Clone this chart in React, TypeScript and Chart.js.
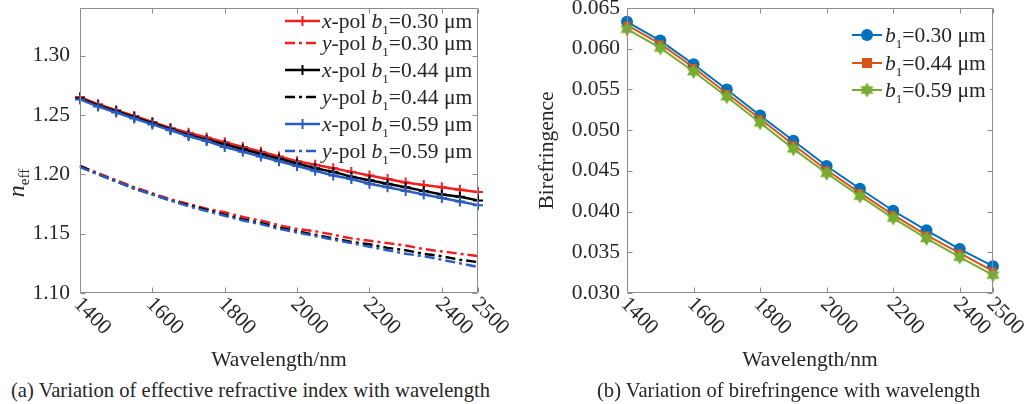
import React, { useEffect, useRef } from 'react';
import { Chart, registerables } from 'chart.js';

Chart.register(...registerables);

const FONT = '"Liberation Serif", "Times New Roman", serif';
const TEXT = '#262626';
const AXIS = '#8c8c8c';
const FS = 21.5;

// ---------- (a) effective refractive index ----------
const wavelengthsA = [1400, 1450, 1500, 1550, 1600, 1650, 1700, 1750, 1800, 1850, 1900, 1950, 2000, 2050, 2100, 2150, 2200, 2250, 2300, 2350, 2400, 2450, 2500];
const xpol030 = [1.265, 1.259, 1.254, 1.249, 1.244, 1.239, 1.235, 1.231, 1.227, 1.223, 1.219, 1.215, 1.211, 1.208, 1.205, 1.202, 1.199, 1.196, 1.193, 1.191, 1.189, 1.187, 1.185];
const ypol030 = [1.207, 1.201, 1.195, 1.189, 1.184, 1.179, 1.175, 1.171, 1.168, 1.164, 1.161, 1.157, 1.154, 1.152, 1.149, 1.146, 1.144, 1.142, 1.140, 1.137, 1.135, 1.133, 1.131];
const xpol044 = [1.264, 1.258, 1.253, 1.248, 1.243, 1.238, 1.233, 1.229, 1.225, 1.221, 1.217, 1.213, 1.209, 1.205, 1.202, 1.198, 1.195, 1.192, 1.189, 1.186, 1.183, 1.181, 1.178];
const ypol044 = [1.207, 1.200, 1.194, 1.188, 1.183, 1.178, 1.174, 1.170, 1.166, 1.162, 1.159, 1.155, 1.152, 1.149, 1.146, 1.143, 1.141, 1.138, 1.136, 1.133, 1.131, 1.128, 1.126];
const xpol059 = [1.263, 1.257, 1.252, 1.247, 1.242, 1.237, 1.232, 1.228, 1.223, 1.219, 1.215, 1.211, 1.207, 1.203, 1.199, 1.196, 1.192, 1.189, 1.186, 1.183, 1.180, 1.177, 1.174];
const ypol059 = [1.206, 1.200, 1.194, 1.188, 1.183, 1.178, 1.173, 1.169, 1.165, 1.161, 1.158, 1.154, 1.151, 1.148, 1.145, 1.142, 1.139, 1.136, 1.133, 1.131, 1.128, 1.125, 1.122];
const yTicksA = [1.10, 1.15, 1.20, 1.25, 1.30];

// ---------- (b) birefringence ----------
const wavelengthsB = [1400, 1500, 1600, 1700, 1800, 1900, 2000, 2100, 2200, 2300, 2400, 2500];
const bire030 = [0.0633, 0.0610, 0.0581, 0.0550, 0.0518, 0.0487, 0.0456, 0.0428, 0.0401, 0.0377, 0.0354, 0.0333];
const bire044 = [0.0629, 0.0606, 0.0577, 0.0545, 0.0514, 0.0482, 0.0451, 0.0423, 0.0396, 0.0371, 0.0349, 0.0327];
const bire059 = [0.0624, 0.0601, 0.0572, 0.0541, 0.0509, 0.0477, 0.0447, 0.0419, 0.0392, 0.0367, 0.0344, 0.0322];
const yTicksB = [0.030, 0.035, 0.040, 0.045, 0.050, 0.055, 0.060, 0.065];

const xTickValues = [1400, 1600, 1800, 2000, 2200, 2400, 2500];
const widthLabels = ['0.30', '0.44', '0.59'];
const polLabels = ['x', 'y'];
const captionA = '(a) Variation of effective refractive index with wavelength';
const captionB = '(b) Variation of birefringence with wavelength';

const RED = '#f02020';
const BLACK = '#000000';
const BLUE_A = '#2a5cbf';
const BLUE_B = '#0072BD';
const ORANGE_B = '#D95319';
const GREEN_B = '#77AC30';

const pts = (xs: number[], ys: number[]) => xs.map((x, i) => ({ x, y: ys[i] }));

function makeHexagram(color: string, r: number) {
  const c = document.createElement('canvas');
  const s = Math.ceil(r * 2 + 2);
  c.width = s;
  c.height = s;
  const g = c.getContext('2d')!;
  g.fillStyle = color;
  g.beginPath();
  for (let i = 0; i < 12; i++) {
    const a = -Math.PI / 2 + (i * Math.PI) / 6;
    const rr = i % 2 ? r / Math.sqrt(3) : r;
    const px = s / 2 + rr * Math.cos(a);
    const py = s / 2 + rr * Math.sin(a);
    if (i === 0) g.moveTo(px, py);
    else g.lineTo(px, py);
  }
  g.closePath();
  g.fill();
  return c;
}

type Seg = { t: string; i?: boolean; sub?: boolean };

function drawRich(ctx: CanvasRenderingContext2D, x: number, y: number, segs: Seg[], size: number) {
  ctx.textBaseline = 'alphabetic';
  ctx.textAlign = 'left';
  for (const s of segs) {
    const sz = s.sub ? Math.round(size * 0.62) : size;
    ctx.font = `${s.i ? 'italic ' : ''}${sz}px ${FONT}`;
    ctx.fillText(s.t, x, y + (s.sub ? size * 0.28 : 0));
    x += ctx.measureText(s.t).width;
  }
  return x;
}

function drawFrame(chart: any, yTicks: number[]) {
  const { ctx, chartArea: a, scales } = chart;
  const L = Math.round(a.left) + 0.5;
  const R = Math.round(a.right) - 0.5;
  const T = Math.round(a.top) + 0.5;
  const B = Math.round(a.bottom) - 0.5;
  ctx.save();
  ctx.strokeStyle = AXIS;
  ctx.lineWidth = 1;
  ctx.beginPath();
  ctx.rect(L, T, R - L, B - T);
  const tl = 5;
  for (const v of xTickValues) {
    const px = Math.round(scales.x.getPixelForValue(v)) + 0.5;
    ctx.moveTo(px, B);
    ctx.lineTo(px, B - tl);
    ctx.moveTo(px, T);
    ctx.lineTo(px, T + tl);
  }
  for (const v of yTicks) {
    const py = Math.round(scales.y.getPixelForValue(v)) + 0.5;
    ctx.moveTo(L, py);
    ctx.lineTo(L + tl, py);
    ctx.moveTo(R, py);
    ctx.lineTo(R - tl, py);
  }
  ctx.stroke();
  // rotated x tick labels
  ctx.fillStyle = TEXT;
  ctx.font = `${FS}px ${FONT}`;
  ctx.textAlign = 'left';
  ctx.textBaseline = 'middle';
  for (const v of xTickValues) {
    const px = scales.x.getPixelForValue(v);
    ctx.save();
    ctx.translate(px - 3, a.bottom + 8);
    ctx.rotate(Math.PI / 4);
    ctx.fillText(String(v), 0, 0);
    ctx.restore();
  }
  ctx.restore();
}

function drawMarker(ctx: CanvasRenderingContext2D, kind: string, x: number, y: number, color: string, img?: HTMLCanvasElement) {
  ctx.save();
  ctx.strokeStyle = color;
  ctx.fillStyle = color;
  if (kind === 'cross') {
    ctx.lineWidth = 2;
    ctx.beginPath();
    ctx.moveTo(x - 5, y);
    ctx.lineTo(x + 5, y);
    ctx.moveTo(x, y - 5);
    ctx.lineTo(x, y + 5);
    ctx.stroke();
  } else if (kind === 'circle') {
    ctx.beginPath();
    ctx.arc(x, y, 6, 0, Math.PI * 2);
    ctx.fill();
  } else if (kind === 'rect') {
    ctx.fillRect(x - 5, y - 5, 10, 10);
  } else if (kind === 'img' && img) {
    ctx.drawImage(img, x - img.width / 2, y - img.height / 2);
  }
  ctx.restore();
}

const plotA = {
  id: 'plotA',
  afterDraw(chart: any) {
    const { ctx } = chart;
    drawFrame(chart, yTicksA);
    // legend
    ctx.save();
    const rows = [21, 43, 70, 97, 124, 151];
    const colors = [RED, RED, BLACK, BLACK, BLUE_A, BLUE_A];
    rows.forEach((ry, k) => {
      const pol = polLabels[k % 2];
      const w = widthLabels[Math.floor(k / 2)];
      ctx.strokeStyle = colors[k];
      ctx.lineWidth = 2.5;
      ctx.setLineDash(k % 2 ? [10, 4, 3, 4] : []);
      ctx.beginPath();
      ctx.moveTo(285, ry);
      ctx.lineTo(320, ry);
      ctx.stroke();
      ctx.setLineDash([]);
      if (k % 2 === 0) drawMarker(ctx, 'cross', 302.5, ry, colors[k]);
      ctx.fillStyle = TEXT;
      drawRich(ctx, 322, ry + 7, [{ t: pol, i: true }, { t: '-pol ' }, { t: 'b', i: true }, { t: '1', sub: true }, { t: `=${w} μm` }], FS);
    });
    // y-axis title n_eff
    ctx.translate(18, 183);
    ctx.rotate(-Math.PI / 2);
    ctx.fillStyle = TEXT;
    ctx.font = `italic 24px ${FONT}`;
    const wN = ctx.measureText('n').width;
    ctx.font = `15px ${FONT}`;
    const wE = ctx.measureText('eff').width;
    drawRich(ctx, -(wN + wE) / 2, 6, [{ t: 'n', i: true }], 24);
    ctx.font = `15px ${FONT}`;
    ctx.fillText('eff', -(wN + wE) / 2 + wN, 11);
    ctx.restore();
  },
};

let hexImg: HTMLCanvasElement | null = null;

const plotB = {
  id: 'plotB',
  afterDraw(chart: any) {
    const { ctx } = chart;
    drawFrame(chart, yTicksB);
    ctx.save();
    ctx.fillStyle = '#ffffff';
    ctx.fillRect(848 - 510, 18, 142, 88);
    const rows = [35, 63, 90];
    const colors = [BLUE_B, ORANGE_B, GREEN_B];
    const kinds = ['circle', 'rect', 'img'];
    const ox = 510;
    rows.forEach((ry, k) => {
      ctx.strokeStyle = colors[k];
      ctx.lineWidth = 2;
      ctx.beginPath();
      ctx.moveTo(852 - ox, ry);
      ctx.lineTo(882 - ox, ry);
      ctx.stroke();
      drawMarker(ctx, kinds[k], 867 - ox, ry, colors[k], hexImg || undefined);
      ctx.fillStyle = TEXT;
      drawRich(ctx, 885 - ox, ry + 7, [{ t: 'b', i: true }, { t: '1', sub: true }, { t: `=${widthLabels[k]} μm` }], FS);
    });
    ctx.restore();
  },
};

export default function App() {
  const refA = useRef<HTMLCanvasElement>(null);
  const refB = useRef<HTMLCanvasElement>(null);

  useEffect(() => {
    if (!hexImg) hexImg = makeHexagram(GREEN_B, 7.5);
    const tickFont = { family: FONT, size: FS };
    const xScale = (h: number) => ({
      type: 'linear' as const,
      min: 1400,
      max: 2500,
      grid: { display: false, drawTicks: false },
      border: { display: false },
      ticks: { display: false },
      afterFit: (s: any) => {
        s.height = h;
        s.paddingLeft = 0;
        s.paddingRight = 0;
      },
      title: { display: true, text: 'Wavelength/nm', font: tickFont, color: TEXT, padding: { top: 0, bottom: 2 } },
    });

    const xDs = (label: string, ys: number[], color: string, order: number) => ({
      label,
      data: pts(wavelengthsA, ys),
      borderColor: color,
      backgroundColor: color,
      borderWidth: 2.5,
      pointStyle: 'cross',
      pointRadius: 5,
      pointBorderWidth: 2,
      pointBorderColor: color,
      tension: 0,
      clip: false,
      order,
    });
    const yDs = (label: string, ys: number[], color: string, order: number) => ({
      label,
      data: pts(wavelengthsA, ys),
      borderColor: color,
      backgroundColor: color,
      borderWidth: 2.5,
      borderDash: [10, 4, 3, 4],
      pointRadius: 0,
      tension: 0,
      clip: false,
      order,
    });

    const chartA = new Chart(refA.current!, {
      type: 'line',
      data: {
        datasets: [
          xDs('x-pol b1=0.30 μm', xpol030, RED, 6),
          yDs('y-pol b1=0.30 μm', ypol030, RED, 5),
          xDs('x-pol b1=0.44 μm', xpol044, BLACK, 4),
          yDs('y-pol b1=0.44 μm', ypol044, BLACK, 3),
          xDs('x-pol b1=0.59 μm', xpol059, BLUE_A, 2),
          yDs('y-pol b1=0.59 μm', ypol059, BLUE_A, 1),
        ] as any,
      },
      options: {
        responsive: false,
        animation: false,
        layout: { padding: { top: 8, right: 42, left: 0, bottom: 0 } },
        plugins: { legend: { display: false }, tooltip: { enabled: false } },
        scales: {
          x: xScale(82) as any,
          y: {
            type: 'linear',
            min: 1.1,
            max: 1.34,
            grid: { display: false, drawTicks: false },
            border: { display: false },
            ticks: { font: tickFont, color: TEXT, padding: 10, callback: (v: any) => Number(v).toFixed(2) },
            afterBuildTicks: (s: any) => {
              s.ticks = yTicksA.map((v) => ({ value: v }));
            },
            afterFit: (s: any) => {
              s.width = 80;
              s.paddingTop = 0;
              s.paddingBottom = 0;
            },
          } as any,
        },
      },
      plugins: [plotA],
    });

    const bDs = (label: string, ys: number[], color: string, style: any, radius: number, order: number) => ({
      label,
      data: pts(wavelengthsB, ys),
      borderColor: color,
      backgroundColor: color,
      borderWidth: 2,
      pointStyle: style,
      pointRadius: radius,
      pointBorderWidth: 0,
      pointBorderColor: color,
      pointBackgroundColor: color,
      tension: 0,
      clip: false,
      order,
    });

    const chartB = new Chart(refB.current!, {
      type: 'line',
      data: {
        datasets: [
          bDs('b1=0.30 μm', bire030, BLUE_B, 'circle', 6, 3),
          bDs('b1=0.44 μm', bire044, ORANGE_B, 'rect', 5, 2),
          bDs('b1=0.59 μm', bire059, GREEN_B, hexImg, 7, 1),
        ] as any,
      },
      options: {
        responsive: false,
        animation: false,
        layout: { padding: { top: 8, right: 35, left: 0, bottom: 0 } },
        plugins: { legend: { display: false }, tooltip: { enabled: false } },
        scales: {
          x: xScale(82) as any,
          y: {
            type: 'linear',
            min: 0.03,
            max: 0.065,
            grid: { display: false, drawTicks: false },
            border: { display: false },
            ticks: { font: tickFont, color: TEXT, padding: 7, callback: (v: any) => Number(v).toFixed(3) },
            afterBuildTicks: (s: any) => {
              s.ticks = yTicksB.map((v) => ({ value: v }));
            },
            afterFit: (s: any) => {
              s.width = 117;
              s.paddingTop = 0;
              s.paddingBottom = 0;
            },
            title: { display: true, text: 'Birefringence', font: tickFont, color: TEXT, padding: { top: 24, bottom: 0 } },
          } as any,
        },
      },
      plugins: [plotB],
    });

    return () => {
      chartA.destroy();
      chartB.destroy();
    };
  }, []);

  const capStyle: React.CSSProperties = {
    position: 'absolute',
    top: 378,
    fontFamily: FONT,
    fontSize: 20.6,
    lineHeight: '24px',
    color: TEXT,
    whiteSpace: 'nowrap',
  };

  return (
    <div style={{ position: 'fixed', left: 0, top: 0, width: 1028, height: 404, background: '#ffffff', overflow: 'hidden' }}>
      <canvas ref={refA} width={520} height={375} style={{ position: 'absolute', left: 0, top: 0 }} />
      <canvas ref={refB} width={518} height={375} style={{ position: 'absolute', left: 510, top: 0 }} />
      <div style={{ ...capStyle, left: 11 }}>{captionA}</div>
      <div style={{ ...capStyle, left: 597 }}>{captionB}</div>
    </div>
  );
}
